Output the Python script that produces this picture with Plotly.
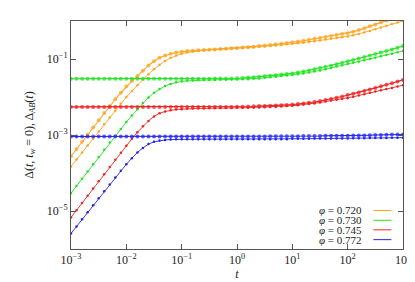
import numpy as np
import plotly.graph_objects as go

# sampling times (log10 t)
log10_t = [-3.0, -2.9, -2.8, -2.7, -2.6, -2.5, -2.4, -2.3, -2.2, -2.1,
           -2.0, -1.9, -1.8, -1.7, -1.6, -1.5, -1.4, -1.3, -1.2, -1.1,
           -1.0, -0.9, -0.8, -0.7, -0.6, -0.5, -0.4, -0.3, -0.2, -0.1,
           0.0, 0.1, 0.2, 0.3, 0.4, 0.5, 0.6, 0.7, 0.8, 0.9,
           1.0, 1.1, 1.2, 1.3, 1.4, 1.5, 1.6, 1.7, 1.8, 1.9,
           2.0, 2.1, 2.2, 2.3, 2.4, 2.5, 2.6, 2.7, 2.8, 2.9,
           3.0]

# phi = 0.720 (log10 values)
ab_720 = [-3.56, -3.37, -3.18, -2.99, -2.80, -2.61, -2.42, -2.24, -2.06, -1.89,
          -1.72, -1.58, -1.45, -1.31, -1.17, -1.06, -0.97, -0.91, -0.86, -0.83,
          -0.81, -0.79, -0.78, -0.77, -0.76, -0.755, -0.75, -0.74, -0.73, -0.72,
          -0.71, -0.70, -0.69, -0.675, -0.66, -0.645, -0.63, -0.615, -0.60, -0.58,
          -0.56, -0.54, -0.52, -0.495, -0.47, -0.445, -0.42, -0.395, -0.37, -0.345,
          -0.32, -0.28, -0.24, -0.19, -0.14, -0.09, -0.04, 0.01, 0.06, 0.11,
          0.16]
d_720 = [-3.83, -3.645, -3.46, -3.275, -3.09, -2.905, -2.72, -2.54, -2.36, -2.18,
         -2.00, -1.84, -1.69, -1.54, -1.40, -1.27, -1.15, -1.05, -0.97, -0.91,
         -0.86, -0.83, -0.805, -0.785, -0.77, -0.76, -0.755, -0.745, -0.735, -0.725,
         -0.72, -0.71, -0.70, -0.69, -0.68, -0.67, -0.66, -0.645, -0.63, -0.615,
         -0.60, -0.585, -0.57, -0.55, -0.53, -0.51, -0.49, -0.47, -0.45, -0.43,
         -0.41, -0.375, -0.34, -0.30, -0.26, -0.215, -0.17, -0.125, -0.08, -0.04,
         0.00]

# phi = 0.730
ab_730 = [-1.52, -1.52, -1.52, -1.52, -1.52, -1.52, -1.52, -1.52, -1.52, -1.52,
          -1.52, -1.52, -1.52, -1.52, -1.52, -1.52, -1.52, -1.52, -1.52, -1.52,
          -1.52, -1.52, -1.52, -1.52, -1.52, -1.52, -1.515, -1.515, -1.51, -1.51,
          -1.505, -1.50, -1.49, -1.48, -1.47, -1.455, -1.44, -1.425, -1.41, -1.395,
          -1.38, -1.355, -1.33, -1.30, -1.27, -1.24, -1.21, -1.175, -1.14, -1.10,
          -1.06, -1.025, -0.99, -0.95, -0.91, -0.87, -0.83, -0.79, -0.75, -0.705,
          -0.66]
d_730 = [-4.53, -4.34, -4.15, -3.96, -3.77, -3.58, -3.39, -3.20, -3.02, -2.84,
         -2.66, -2.49, -2.32, -2.16, -2.01, -1.89, -1.79, -1.71, -1.655, -1.615,
         -1.59, -1.575, -1.565, -1.56, -1.555, -1.55, -1.55, -1.545, -1.545, -1.54,
         -1.54, -1.535, -1.53, -1.52, -1.51, -1.495, -1.48, -1.465, -1.45, -1.435,
         -1.42, -1.40, -1.38, -1.355, -1.33, -1.30, -1.27, -1.235, -1.20, -1.165,
         -1.13, -1.10, -1.07, -1.035, -1.00, -0.965, -0.93, -0.895, -0.86, -0.825,
         -0.79]

# phi = 0.745
ab_745 = [-2.26, -2.26, -2.26, -2.26, -2.26, -2.26, -2.26, -2.26, -2.26, -2.26,
          -2.26, -2.26, -2.26, -2.26, -2.26, -2.26, -2.26, -2.26, -2.26, -2.26,
          -2.26, -2.26, -2.26, -2.26, -2.26, -2.26, -2.26, -2.26, -2.26, -2.26,
          -2.255, -2.255, -2.25, -2.245, -2.24, -2.235, -2.23, -2.225, -2.22, -2.21,
          -2.20, -2.185, -2.17, -2.15, -2.13, -2.105, -2.08, -2.05, -2.02, -1.985,
          -1.95, -1.915, -1.88, -1.84, -1.80, -1.76, -1.72, -1.68, -1.64, -1.595,
          -1.55]
d_745 = [-5.17, -4.98, -4.79, -4.60, -4.41, -4.22, -4.03, -3.84, -3.65, -3.465,
         -3.28, -3.10, -2.93, -2.77, -2.63, -2.51, -2.43, -2.38, -2.35, -2.33,
         -2.32, -2.31, -2.305, -2.30, -2.30, -2.295, -2.295, -2.29, -2.29, -2.29,
         -2.285, -2.285, -2.28, -2.28, -2.275, -2.27, -2.265, -2.26, -2.25, -2.24,
         -2.23, -2.215, -2.20, -2.185, -2.17, -2.145, -2.12, -2.095, -2.07, -2.05,
         -2.03, -1.995, -1.96, -1.925, -1.89, -1.855, -1.82, -1.79, -1.76, -1.725,
         -1.69]

# phi = 0.772
ab_772 = [-3.04, -3.04, -3.04, -3.04, -3.04, -3.04, -3.04, -3.04, -3.04, -3.04,
          -3.04, -3.04, -3.04, -3.04, -3.04, -3.04, -3.04, -3.04, -3.04, -3.04,
          -3.04, -3.04, -3.04, -3.04, -3.04, -3.04, -3.04, -3.04, -3.04, -3.04,
          -3.04, -3.04, -3.04, -3.04, -3.04, -3.04, -3.035, -3.035, -3.03, -3.03,
          -3.03, -3.03, -3.025, -3.025, -3.025, -3.025, -3.02, -3.02, -3.02, -3.02,
          -3.02, -3.015, -3.01, -3.01, -3.005, -3.0, -3.0, -2.995, -2.99, -2.99,
          -2.985]
d_772 = [-5.59, -5.405, -5.22, -5.035, -4.85, -4.665, -4.48, -4.30, -4.12, -3.94,
         -3.77, -3.61, -3.46, -3.34, -3.24, -3.18, -3.145, -3.13, -3.12, -3.115,
         -3.11, -3.11, -3.11, -3.11, -3.11, -3.11, -3.11, -3.11, -3.11, -3.11,
         -3.11, -3.11, -3.11, -3.11, -3.11, -3.11, -3.11, -3.11, -3.11, -3.11,
         -3.10, -3.10, -3.10, -3.10, -3.095, -3.095, -3.095, -3.09, -3.09, -3.09,
         -3.09, -3.088, -3.086, -3.084, -3.082, -3.08, -3.078, -3.076, -3.074, -3.072,
         -3.07]

labels = ["0.720", "0.730", "0.745", "0.772"]
colors = ["#FFA41F", "#1EE61E", "#F02222", "#2424F0"]
series_ab = [ab_720, ab_730, ab_745, ab_772]
series_d = [d_720, d_730, d_745, d_772]

x_tickvals = [1e-3, 1e-2, 1e-1, 1e0, 1e1, 1e2, 1e3]
x_ticktext = ["10<sup>\u22123</sup>", "10<sup>\u22122</sup>", "10<sup>\u22121</sup>",
              "10<sup>0</sup>", "10<sup>1</sup>", "10<sup>2</sup>", "10<sup>3</sup>"]
y_tickvals = [1e-5, 1e-3, 1e-1]
y_ticktext = ["10<sup>\u22125</sup>", "10<sup>\u22123</sup>", "10<sup>\u22121</sup>"]

t = 10 ** np.array(log10_t)

FONT = "Liberation Serif"
fig = go.Figure()
for lab, col, ab, d in zip(labels, colors, series_ab, series_d):
    fig.add_trace(go.Scatter(
        x=t, y=10 ** np.array(ab), mode="lines+markers",
        line=dict(color=col, width=1.1),
        marker=dict(color=col, size=4, symbol="circle", opacity=0.75),
        showlegend=False))
    fig.add_trace(go.Scatter(
        x=t, y=10 ** np.array(d), mode="lines+markers",
        line=dict(color=col, width=0.9),
        marker=dict(color=col, size=2.5, symbol="circle"),
        showlegend=False))

axis_common = dict(
    showgrid=False, zeroline=False, showline=True, linecolor="#555555",
    linewidth=1, mirror="ticks", ticks="inside", ticklen=5, tickcolor="#555555",
    tickfont=dict(family=FONT, size=12, color="#222222"),
)
fig.update_xaxes(type="log", range=[-3, 3], tickvals=x_tickvals, ticktext=x_ticktext,
                 title=dict(text="<i>t</i>", font=dict(family=FONT, size=12, color="#222222"),
                            standoff=2),
                 **axis_common)
fig.update_yaxes(type="log", range=[-6, 0], tickvals=y_tickvals, ticktext=y_ticktext,
                 title=dict(text="\u0394(<i>t</i>, <i>t</i><sub><i>w</i></sub> = 0), "
                                 "\u0394<sub><i>AB</i></sub>(<i>t</i>)",
                            font=dict(family=FONT, size=12, color="#222222"), standoff=10),
                 **axis_common)

# legend: text right-aligned, sample line on the right
leg_y = [0.169, 0.126, 0.084, 0.041]
shapes = []
annotations = []
for lab, col, yy in zip(labels, colors, leg_y):
    annotations.append(dict(
        xref="paper", yref="paper", x=0.882, y=yy, xanchor="right", yanchor="middle",
        text="<i>\u03c6</i> = " + lab, showarrow=False,
        font=dict(family=FONT, size=11, color="#222222")))
    shapes.append(dict(type="line", xref="paper", yref="paper",
                       x0=0.911, x1=0.965, y0=yy, y1=yy,
                       line=dict(color=col, width=1)))

fig.update_layout(
    width=415, height=282,
    margin=dict(l=63, r=18, t=12, b=34),
    paper_bgcolor="white", plot_bgcolor="white",
    shapes=shapes, annotations=annotations,
    showlegend=False,
)
fig.write_html("out.html")
